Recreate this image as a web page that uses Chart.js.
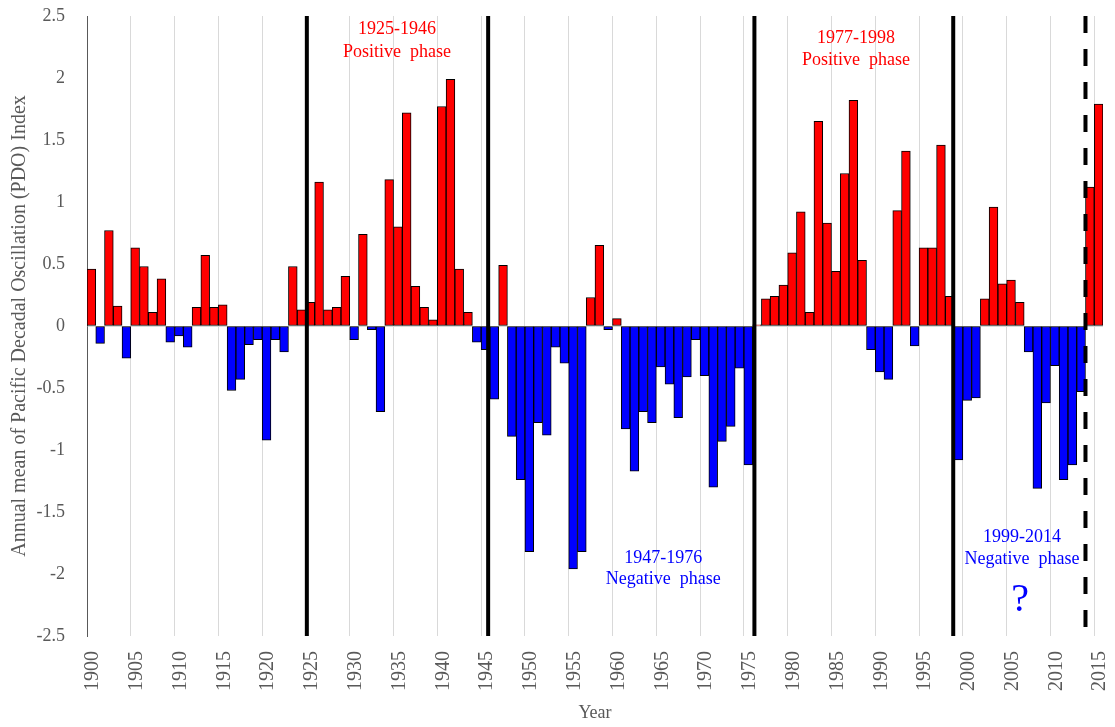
<!DOCTYPE html>
<html>
<head>
<meta charset="utf-8">
<title>PDO index</title>
<script src="https://cdn.jsdelivr.net/npm/chart.js@4/dist/chart.umd.min.js"></script>
<style>
    html, body { margin: 0; padding: 0; background: #ffffff; }
    #wrap { width: 1115px; height: 727px; }
</style>
</head>
<body>
<div id="wrap"><canvas id="pdoChart" width="1115" height="727"></canvas></div>
<script>
// annual mean PDO index, 1900 - 2015
const firstYear = 1900;
const pdoValues = [
    0.46, -0.14, 0.77, 0.16, -0.26, 0.63, 0.48, 0.11, 0.38, -0.13,   // 1900s
    -0.08, -0.17, 0.15, 0.57, 0.15, 0.17, -0.52, -0.43, -0.15, -0.11, // 1910s
    -0.92, -0.11, -0.21, 0.48, 0.13, 0.19, 1.16, 0.13, 0.15, 0.40,   // 1920s
    -0.11, 0.74, -0.03, -0.69, 1.18, 0.80, 1.72, 0.32, 0.15, 0.05,   // 1930s
    1.77, 1.99, 0.46, 0.11, -0.13, -0.19, -0.59, 0.49, -0.89, -1.24, // 1940s
    -1.82, -0.78, -0.88, -0.17, -0.30, -1.96, -1.82, 0.23, 0.65, -0.03, // 1950s
    0.06, -0.83, -1.17, -0.69, -0.78, -0.33, -0.47, -0.74, -0.41, -0.11, // 1960s
    -0.40, -1.30, -0.93, -0.81, -0.34, -1.12, 0.01, 0.22, 0.24, 0.33, // 1970s
    0.59, 0.92, 0.11, 1.65, 0.83, 0.44, 1.23, 1.82, 0.53, -0.19,     // 1980s
    -0.37, -0.43, 0.93, 1.41, -0.16, 0.63, 0.63, 1.46, 0.24, -1.08,  // 1990s
    -0.60, -0.58, 0.22, 0.96, 0.34, 0.37, 0.19, -0.21, -1.31, -0.62, // 2000s
    -0.32, -1.24, -1.12, -0.53, 1.12, 1.79                            // 2010s
];
const years = pdoValues.map((_, i) => firstYear + i);

// axis ticks
const xTickYears = [1900, 1905, 1910, 1915, 1920, 1925, 1930, 1935, 1940, 1945, 1950, 1955,
    1960, 1965, 1970, 1975, 1980, 1985, 1990, 1995, 2000, 2005, 2010, 2015];
const yTickValues = [-2.5, -2, -1.5, -1, -0.5, 0, 0.5, 1, 1.5, 2, 2.5];

// phase boundaries (solid) and the open one (dashed)
const phaseBreaks = [1925.1, 1945.8, 1976.2, 1998.9];
const openBreaks = [2014.0];

// phase notes
const phaseNotes = [
    { lines: ['1925-1946', 'Positive  phase'], x: 1935.4, y: [2.39, 2.21], color: '#FF0000' },
    { lines: ['1977-1998', 'Positive  phase'], x: 1987.8, y: [2.32, 2.145], color: '#FF0000' },
    { lines: ['1947-1976', 'Negative  phase'], x: 1965.8, y: [-1.87, -2.04], color: '#0000FF' },
    { lines: ['1999-2014', 'Negative  phase'], x: 2006.75, y: [-1.70, -1.88], color: '#0000FF' }
];

const serif = "'Liberation Serif', 'Times New Roman', serif";
const axisGray = '#595959';

// draws the phase lines and notes on top of the bars
const phasePlugin = {
    id: 'phasePlugin',
    afterDatasetsDraw(chart) {
        const { ctx, chartArea, scales } = chart;
        ctx.save();
        ctx.strokeStyle = '#000000';
        ctx.lineWidth = 4;
        phaseBreaks.forEach(yr => {
            const x = scales.x.getPixelForValue(yr);
            ctx.beginPath();
            ctx.moveTo(x, chartArea.top);
            ctx.lineTo(x, chartArea.bottom);
            ctx.stroke();
        });
        ctx.setLineDash([17, 16]);
        openBreaks.forEach(yr => {
            const x = scales.x.getPixelForValue(yr);
            ctx.beginPath();
            ctx.moveTo(x, chartArea.top);
            ctx.lineTo(x, chartArea.bottom);
            ctx.stroke();
        });
        ctx.setLineDash([]);

        ctx.textAlign = 'center';
        ctx.textBaseline = 'middle';
        ctx.font = '18px ' + serif;
        phaseNotes.forEach(note => {
            ctx.fillStyle = note.color;
            const x = scales.x.getPixelForValue(note.x);
            note.lines.forEach((t, i) => {
                ctx.fillText(t, x, scales.y.getPixelForValue(note.y[i]));
            });
        });
        // the question mark for the last phase
        ctx.fillStyle = '#0000FF';
        ctx.font = '40px ' + serif;
        ctx.fillText('?', scales.x.getPixelForValue(2006.55), scales.y.getPixelForValue(-2.21));
        ctx.restore();
    }
};

const ctx = document.getElementById('pdoChart').getContext('2d');
new Chart(ctx, {
    type: 'bar',
    data: {
        datasets: [{
            data: years.map((yr, i) => ({ x: yr + 0.5, y: pdoValues[i] })),
            backgroundColor: pdoValues.map(v => v >= 0 ? '#FF0000' : '#0000FF'),
            borderColor: '#000000',
            borderWidth: 1,
            borderSkipped: false,
            barPercentage: 1,
            categoryPercentage: 1
        }]
    },
    options: {
        responsive: false,
        animation: false,
        devicePixelRatio: 1,
        layout: { padding: { top: 16, right: 12, bottom: 0, left: 0 } },
        plugins: {
            legend: { display: false },
            tooltip: { enabled: false }
        },
        scales: {
            x: {
                type: 'linear',
                min: 1900,
                max: 2016,
                offset: false,
                afterBuildTicks: scale => { scale.ticks = xTickYears.map(v => ({ value: v })); },
                afterFit: scale => {
                    scale.height = 91;
                    scale.paddingLeft = 0;
                    scale.paddingRight = 0;
                },
                grid: { color: '#d9d9d9', lineWidth: 1, drawTicks: false, offset: false },
                border: { display: false },
                ticks: {
                    autoSkip: false,
                    minRotation: 90,
                    maxRotation: 90,
                    padding: 15,
                    labelOffset: 6,
                    color: axisGray,
                    font: { family: serif, size: 20 },
                    callback: v => String(v)
                },
                title: {
                    display: true,
                    text: 'Year',
                    color: axisGray,
                    font: { family: serif, size: 18 },
                    padding: { top: 0, bottom: 3 }
                }
            },
            y: {
                min: -2.5,
                max: 2.5,
                afterBuildTicks: scale => { scale.ticks = yTickValues.map(v => ({ value: v })); },
                afterFit: scale => {
                    scale.width = 87;
                    scale.paddingTop = 0;
                    scale.paddingBottom = 0;
                },
                grid: {
                    drawTicks: false,
                    color: c => (c.tick && c.tick.value === 0) ? '#d9d9d9' : 'rgba(0,0,0,0)'
                },
                border: { display: true, color: axisGray, width: 1 },
                ticks: {
                    padding: 22,
                    color: axisGray,
                    font: { family: serif, size: 18 },
                    callback: v => String(v)
                },
                title: {
                    display: true,
                    text: 'Annual mean of Pacific Decadal Oscillation (PDO) Index',
                    color: axisGray,
                    font: { family: serif, size: 20 },
                    padding: { top: 8, bottom: 0 }
                }
            }
        }
    },
    plugins: [phasePlugin]
});
</script>
</body>
</html>
